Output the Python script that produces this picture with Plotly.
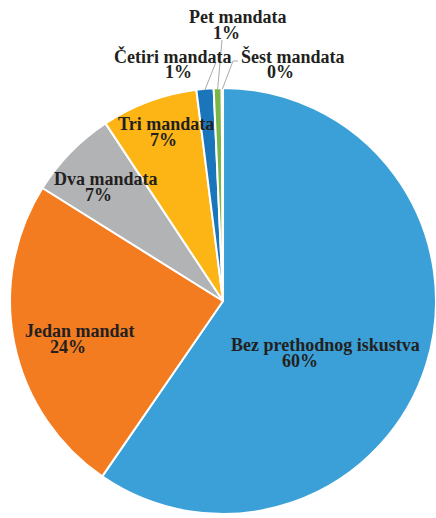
import math
import plotly.graph_objects as go

# ---- data ----
labels = ["Bez prethodnog iskustva", "Jedan mandat", "Dva mandata", "Tri mandata",
          "Četiri mandata", "Pet mandata", "Šest mandata"]
values = [59.6, 24.3, 6.8, 7.3, 1.3, 0.6, 0.1]
colors = ["#3aa0d7", "#f37b20", "#b2b3b5", "#fdb515", "#1b75bb", "#7ab547", "#5fb3e0"]

# ---- layout / style ----
W, H = 436, 518
dom_x = [0.023, 1.0]
dom_y = [0.001, 0.8368]
cx = (dom_x[0] + dom_x[1]) / 2 * W
cy = (1 - (dom_y[0] + dom_y[1]) / 2) * H
R = min((dom_x[1] - dom_x[0]) * W, (dom_y[1] - dom_y[0]) * H) / 2

# label text centres (pixels from top-left): name line, percent line
name_pos = [(325, 345), (80, 331), (106, 179), (166, 124), (172, 56), (238, 17), (293, 56)]
pct_pos = [(300, 361), (68, 347), (98, 195), (163, 140), (178, 72), (226, 33), (280, 72)]
# leader-line start points for outside labels (index -> list of pixel points)
leader_start = {4: [(215.6, 63)], 5: [(222, 40)], 6: [(238, 61), (233, 61)]}

FONT = "Liberation Serif"
TXT = "#231f20"
FS = 18


def to_paper(px, py):
    return px / W, 1 - py / H


fig = go.Figure(go.Pie(
    labels=labels, values=values, sort=False, direction="clockwise", rotation=0,
    marker=dict(colors=colors, line=dict(color="white", width=2)),
    textinfo="none", hoverinfo="label+percent", showlegend=False,
    domain=dict(x=dom_x, y=dom_y),
))

total = sum(values)
annotations = []
shapes = []
cum = 0.0
for i, (lab, v) in enumerate(zip(labels, values)):
    mid = (cum + v / 2) / total * 2 * math.pi
    cum += v
    nx, ny = to_paper(*name_pos[i])
    annotations.append(dict(x=nx, y=ny, xref="paper", yref="paper", text=f"<b>{lab}</b>",
                            showarrow=False, xanchor="center", yanchor="middle",
                            font=dict(family=FONT, size=FS, color=TXT)))
    px_, py_ = to_paper(*pct_pos[i])
    annotations.append(dict(x=px_, y=py_, xref="paper", yref="paper",
                            text=f"<b>{v / total * 100:.0f}%</b>",
                            showarrow=False, xanchor="center", yanchor="middle",
                            font=dict(family=FONT, size=FS, color=TXT)))
    if i in leader_start:
        pts = list(leader_start[i])
        ex = cx + R * math.sin(mid)
        ey = cy - R * math.cos(mid) + 1
        pts.append((ex, ey))
        for (x0, y0), (x1, y1) in zip(pts[:-1], pts[1:]):
            a0, b0 = to_paper(x0, y0)
            a1, b1 = to_paper(x1, y1)
            shapes.append(dict(type="line", xref="paper", yref="paper",
                               x0=a0, y0=b0, x1=a1, y1=b1,
                               line=dict(color="#a7a9ac", width=1)))

fig.update_layout(
    width=W, height=H, margin=dict(l=0, r=0, t=0, b=0),
    paper_bgcolor="white", plot_bgcolor="white",
    annotations=annotations, shapes=shapes,
)

fig.write_html("out.html", config={"displayModeBar": False},
               post_script="document.body.style.margin='0px';document.body.style.overflow='hidden';")
